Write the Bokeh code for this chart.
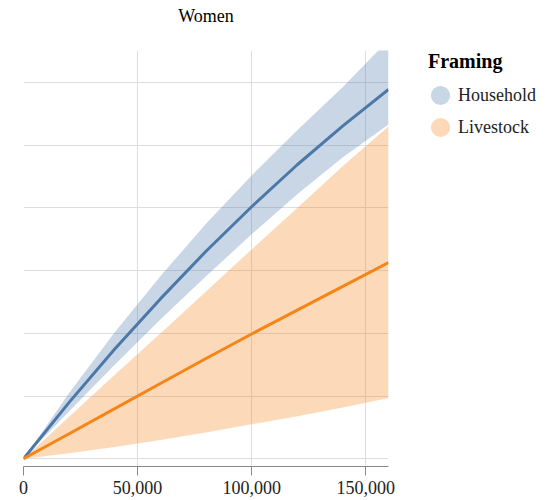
import math
from bokeh.plotting import figure
from bokeh.models import (FixedTicker, NumeralTickFormatter, Range1d, Legend,
                          LegendItem, ColumnDataSource, Title)
from bokeh.embed import file_html
from bokeh.resources import INLINE

# ---- data ----
x_vals = [0, 20000, 40000, 60000, 80000, 100000, 120000, 140000, 160000]
household_mean = [0, 0.90, 1.75, 2.55, 3.31, 4.02, 4.69, 5.31, 5.89]
household_lo = [0, 0.76, 1.50, 2.22, 2.91, 3.58, 4.22, 4.81, 5.33]
household_hi = [0, 1.05, 2.02, 2.91, 3.75, 4.52, 5.24, 5.93, 6.68]
livestock_mean = [0, 0.40, 0.80, 1.20, 1.60, 1.99, 2.37, 2.75, 3.13]
livestock_lo = [0, 0.09, 0.19, 0.30, 0.42, 0.55, 0.68, 0.82, 0.97]
livestock_hi = [0, 0.67, 1.34, 2.00, 2.67, 3.34, 4.00, 4.67, 5.30]
x_ticks = [0, 50000, 100000, 150000]
y_grid = [0, 1, 2, 3, 4, 5, 6]
x_max = 160000
y_min, y_max = -0.123, 6.512
series_names = ["Household", "Livestock"]
series_colors = ["#4c78a8", "#f58518"]

FONT = "Liberation Serif"

src = ColumnDataSource(dict(x=x_vals, hm=household_mean, hl=household_lo, hh=household_hi,
                            lm=livestock_mean, ll=livestock_lo, lh=livestock_hi))

p = figure(frame_width=365, frame_height=416,
           x_range=Range1d(0, x_max), y_range=Range1d(y_min, y_max),
           output_backend="svg", toolbar_location=None, y_axis_location=None,
           min_border_left=23, min_border_right=162, min_border_top=50, min_border_bottom=34,
           background_fill_color="white", border_fill_color="white")
p.outline_line_color = None

# title: a blank (white) spacer next to the frame, then the visible title above it
spacer = Title(text=" ", text_font=FONT, text_font_size="18px", text_color="white", standoff=3)
p.add_layout(spacer, "above")
main_title = Title(text="Women", align="center", text_font=FONT, text_font_size="18px",
                   text_font_style="normal", text_color="#000000", standoff=0)
p.add_layout(main_title, "above")

# grids (also forming the frame edges)
p.xgrid.ticker = FixedTicker(ticks=x_ticks + [x_max])
p.xgrid.bounds = (0, y_max)
p.xgrid.grid_line_color = "#dddddd"
p.ygrid.ticker = FixedTicker(ticks=y_grid + [y_max])
p.ygrid.bounds = (0, x_max)
p.ygrid.grid_line_color = "#dddddd"

# x axis
ax = p.xaxis[0]
ax.ticker = FixedTicker(ticks=x_ticks)
ax.formatter = NumeralTickFormatter(format="0,0")
ax.axis_line_color = "#888888"
ax.major_tick_line_color = "#888888"
ax.major_tick_in = 0
ax.major_tick_out = 9
ax.minor_tick_line_color = None
ax.major_label_standoff = 5
ax.major_label_text_font = FONT
ax.major_label_text_font_size = "18px"
ax.major_label_text_color = "#222222"

# bands and lines
p.varea(x="x", y1="hl", y2="hh", source=src, fill_color=series_colors[0], fill_alpha=0.3)
p.varea(x="x", y1="ll", y2="lh", source=src, fill_color=series_colors[1], fill_alpha=0.3)
p.line(x="x", y="hm", source=src, line_color=series_colors[0], line_width=3)
p.line(x="x", y="lm", source=src, line_color=series_colors[1], line_width=3)

# legend (circle swatches via screen-sized ellipses, not drawn in the plot)
items = []
for name, col in zip(series_names, series_colors):
    r = p.ellipse(x=[math.nan], y=[math.nan], width=20, height=20,
                  width_units="screen", height_units="screen",
                  fill_color=col, fill_alpha=0.3, line_color=None)
    items.append(LegendItem(label=name, renderers=[r]))

legend = Legend(items=items, location=(40, 327), title="Framing",
                title_text_font=FONT, title_text_font_size="20px",
                title_text_font_style="bold", title_text_color="#000000",
                title_standoff=10,
                label_text_font=FONT, label_text_font_size="18px", label_text_color="#222222",
                glyph_width=24, glyph_height=24, label_standoff=6, spacing=8,
                padding=0, margin=0, border_line_color=None, background_fill_alpha=0)
p.add_layout(legend, "right")

open("out.html", "w").write(file_html(p, INLINE))
